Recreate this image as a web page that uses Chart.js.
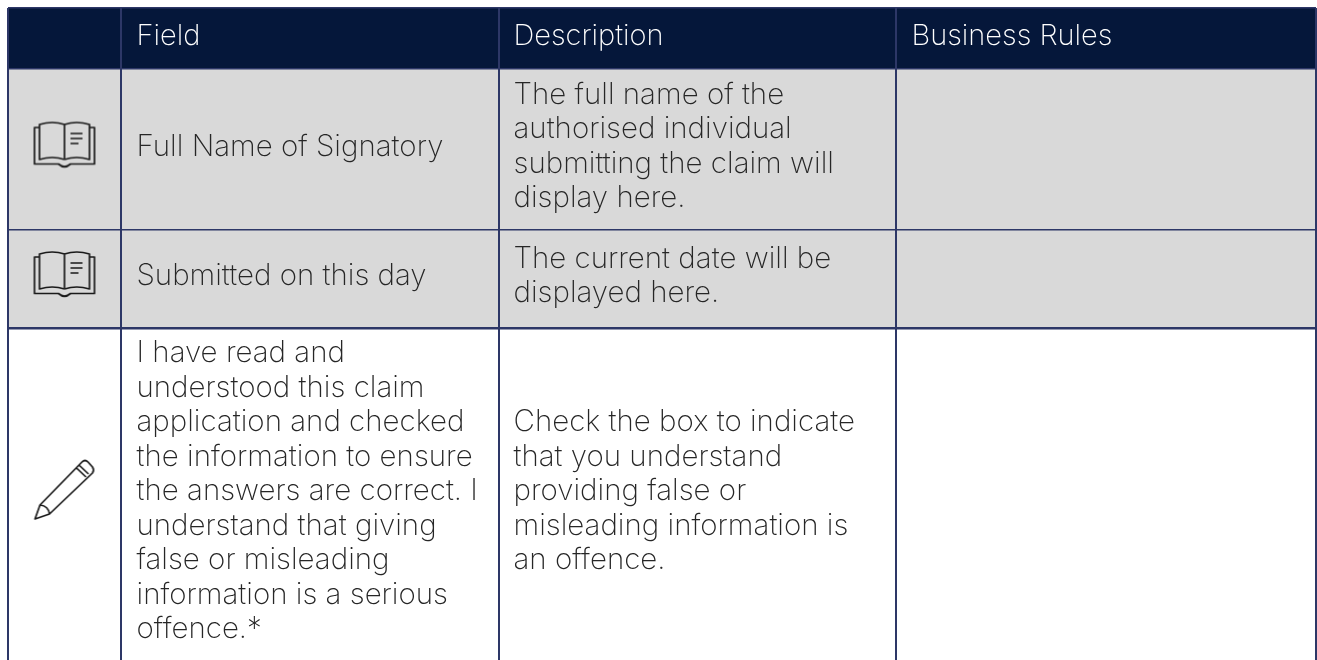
<!DOCTYPE html>
<html>
<head>
<meta charset="utf-8">
<title>Field table</title>
<script src="https://cdn.jsdelivr.net/npm/chart.js@4"></script>
<style>
  html, body { margin: 0; padding: 0; background: #fff; }
  canvas { display: block; }
</style>
</head>
<body>
<canvas id="tableChart" width="1317" height="660"></canvas>
<script>
// table data
const columnEdges = [8, 121, 499, 896, 1316];
const rowEdges = [8, 69, 230, 328, 660];
const headerLabels = ['', 'Field', 'Description', 'Business Rules'];
const fieldLines = [
  ['Full Name of Signatory'],
  ['Submitted on this day'],
  ['I have read and', 'understood this claim', 'application and checked', 'the information to ensure',
   'the answers are correct. I', 'understand that giving', 'false or misleading',
   'information is a serious', 'offence.*']
];
const descriptionLines = [
  ['The full name of the', 'authorised individual', 'submitting the claim will', 'display here.'],
  ['The current date will be', 'displayed here.'],
  ['Check the box to indicate', 'that you understand', 'providing false or',
   'misleading information is', 'an offence.']
];
const rowFills = ['#05173a', '#d9d9d9', '#d9d9d9', '#ffffff'];
const rowIcons = ['', 'book', 'book', 'pencil'];

const LINE = '#2d3767';
const LINE_HEIGHT = 34.5;
const HEADER_FONT = '200 29px Inter';
const TEXT_FONT = '200 29.5px Inter';
const INDENTS = [15.5, 15.5, 14.5, 15.5];

function makeIcon(kind) {
  const c = document.createElement('canvas');
  c.width = 80; c.height = 80;
  const g = c.getContext('2d');
  g.strokeStyle = '#1a1a1a';
  g.lineWidth = 1.7;
  g.lineJoin = 'round';
  g.translate(40, 40);
  g.beginPath();
  if (kind === 'book') {
    // pages
    g.moveTo(0, -25);
    g.lineTo(0, 9);
    g.moveTo(0, -25);
    g.quadraticCurveTo(-12, -29, -25, -25);
    g.lineTo(-25, 10);
    g.quadraticCurveTo(-12, 6, 0, 10);
    g.moveTo(0, -25);
    g.quadraticCurveTo(12, -29, 25, -25);
    g.lineTo(25, 10);
    g.quadraticCurveTo(12, 6, 0, 10);
    // cover
    g.moveTo(-25, -22);
    g.lineTo(-30, -22);
    g.lineTo(-30, 14.5);
    g.lineTo(-6, 14.5);
    g.quadraticCurveTo(0, 20, 6, 14.5);
    g.lineTo(30, 14.5);
    g.lineTo(30, -22);
    g.lineTo(25, -22);
    // text marks
    g.moveTo(6, -16); g.lineTo(18, -16);
    g.moveTo(6, -11); g.lineTo(18, -11);
    g.moveTo(6, -6); g.lineTo(14, -6);
  } else {
    // pencil
    g.moveTo(-29.5, 25);
    g.lineTo(-24.5, 11);
    g.lineTo(17.5, -32);
    g.quadraticCurveTo(20.5, -35, 23.5, -32);
    g.lineTo(28, -27);
    g.quadraticCurveTo(30, -24, 28, -21);
    g.lineTo(-15, 20);
    g.closePath();
    g.moveTo(-24.5, 11);
    g.quadraticCurveTo(-16, 12, -15, 20);
    g.moveTo(12, -26); g.lineTo(21.5, -17);
    g.moveTo(15, -28.5); g.lineTo(24, -20);
  }
  g.stroke();
  return c;
}

// one filled band for each table row
const bandDatasets = rowFills.map((fill, i) => ({
  data: [{ x: columnEdges[0], y: rowEdges[i] }, { x: columnEdges[columnEdges.length - 1], y: rowEdges[i] }],
  showLine: true,
  borderWidth: 0,
  pointRadius: 0,
  backgroundColor: fill,
  fill: { value: rowEdges[i + 1] }
}));

const iconCells = rowIcons
  .map((kind, i) => ({ kind, x: (columnEdges[0] + columnEdges[1]) / 2, y: (rowEdges[i] + rowEdges[i + 1]) / 2 }))
  .filter(d => d.kind);

const iconDataset = {
  data: iconCells.map(d => ({ x: d.x, y: d.y })),
  pointStyle: iconCells.map(d => makeIcon(d.kind)),
  pointRadius: 10,
  showLine: false
};

const tableText = {
  id: 'tableText',
  afterDraw(chart) {
    const { ctx, scales } = chart;
    const { x, y } = scales;
    // row centre to text baseline
    const baseline = 6;
    ctx.save();
    ctx.textBaseline = 'alphabetic';
    ctx.textAlign = 'left';
    ctx.font = HEADER_FONT;
    ctx.fillStyle = '#ffffff';
    headerLabels.forEach((label, col) => {
      const v = (rowEdges[0] + rowEdges[1]) / 2 + baseline;
      ctx.fillText(label, x.getPixelForValue(columnEdges[col]) + INDENTS[col], y.getPixelForValue(v));
    });
    ctx.font = TEXT_FONT;
    ctx.fillStyle = '#262626';
    const drawCol = (rows, col) => rows.forEach((lines, r) => {
      const mid = (rowEdges[r + 1] + rowEdges[r + 2]) / 2;
      lines.forEach((line, i) => {
        const v = mid + baseline + (i - (lines.length - 1) / 2) * LINE_HEIGHT;
        ctx.fillText(line, x.getPixelForValue(columnEdges[col]) + INDENTS[col], y.getPixelForValue(v));
      });
    });
    drawCol(fieldLines, 1);
    drawCol(descriptionLines, 2);
    ctx.restore();
  }
};

new Chart(document.getElementById('tableChart'), {
  type: 'scatter',
  data: { datasets: [iconDataset, ...bandDatasets] },
  plugins: [tableText],
  options: {
    responsive: false,
    animation: false,
    layout: { autoPadding: false, padding: { left: 8, right: 1, top: 8, bottom: 0 } },
    plugins: { legend: { display: false }, tooltip: { enabled: false } },
    scales: {
      x: {
        type: 'linear',
        min: columnEdges[0],
        max: columnEdges[columnEdges.length - 1],
        afterBuildTicks: s => { s.ticks = columnEdges.map(value => ({ value })); },
        ticks: { display: false },
        border: { display: false },
        grid: { z: 1, color: LINE, lineWidth: 2, drawTicks: false }
      },
      y: {
        type: 'linear',
        reverse: true,
        min: rowEdges[0],
        max: rowEdges[rowEdges.length - 1],
        afterBuildTicks: s => { s.ticks = rowEdges.map(value => ({ value })); },
        ticks: { display: false },
        border: { display: false },
        grid: {
          z: 1,
          drawTicks: false,
          // the last row runs off the page, so it has no closing line
          color: c => (c.tick && c.tick.value === rowEdges[4] ? 'transparent' : LINE),
          lineWidth: c => (c.tick && c.tick.value === rowEdges[3] ? 2.5 : 1.5)
        }
      }
    }
  }
});
</script>
</body>
</html>
